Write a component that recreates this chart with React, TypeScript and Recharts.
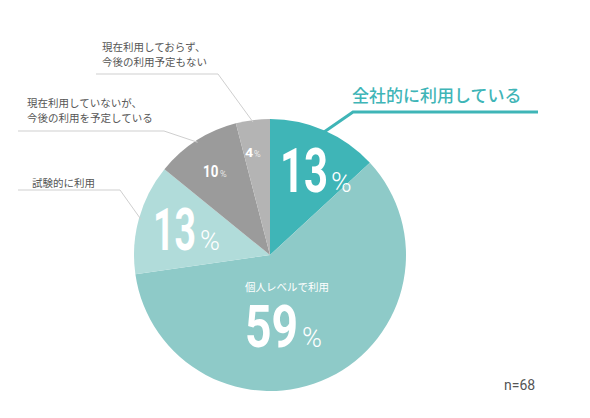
import { PieChart, Pie, Cell } from 'recharts'

// ── data ─────────────────────────────────────────────────────────────────────
const CATEGORIES = [
  '全社的に利用している',
  '個人レベルで利用',
  '試験的に利用',
  '現在利用していないが、今後の利用を予定している',
  '現在利用しておらず、今後の利用予定もない',
]
const VALUES = [13, 59, 13, 10, 4]
const SAMPLE_LABEL = 'n=68'

// label lines shown outside the pie (index → lines)
const OUTER_LINES: Record<number, string[]> = {
  0: ['全社的に利用している'],
  2: ['試験的に利用'],
  3: ['現在利用していないが、', '今後の利用を予定している'],
  4: ['現在利用しておらず、', '今後の利用予定もない'],
}

// ── style ────────────────────────────────────────────────────────────────────
const COLORS = ['#3fb5b7', '#8ecac8', '#b1dcda', '#9b9b9b', '#b4b4b4']
const TEAL = '#3fb5b7'
const TEXT = '#555'
const JP = '"Noto Sans CJK JP", "Noto Sans", sans-serif'
const NUM = 'Roboto, "DejaVu Sans", sans-serif'
const DIGIT_EM = 0.562 // Roboto bold digit advance

// inner value label placement, offsets from the pie centre
const INNER = [
  { dx: 10, dy: -63, size: 62, w: 47, pdx: 51, psize: 28 },
  { dx: -25, dy: 92, size: 59, w: 52, pdx: 57, psize: 27 },
  { dx: -117, dy: -5, size: 60, w: 42, pdx: 47, psize: 27 },
  { dx: -67, dy: -78, size: 17, w: 15, pdx: 17, psize: 9 },
  { dx: -25, dy: -98, size: 13, w: 8, pdx: 9, psize: 9 },
]

// leader line: elbow, far end of underline, text start / baselines
const OUTER: Record<number, { ex: number; ey: number; endX: number; tx: number; ty: number[] }> = {
  0: { ex: 353, ey: 112, endX: 538, tx: 352, ty: [102] },
  2: { ex: 120, ey: 190, endX: 18, tx: 32, ty: [187] },
  3: { ex: 164, ey: 131, endX: 18, tx: 27, ty: [107, 122] },
  4: { ex: 218, ey: 74, endX: 96, tx: 102, ty: [51, 66] },
}

const RAD = Math.PI / 180

function renderLabel(props: any) {
  const { cx, cy, midAngle, outerRadius, index, value } = props
  const inner = INNER[index]
  const out = OUTER[index]
  const nx = cx + inner.dx
  const ny = cy + inner.dy
  // squeeze the digits horizontally to mimic a condensed face
  const sx = inner.w / (String(value).length * DIGIT_EM * inner.size)

  let leader = null
  if (out) {
    const px = cx + (outerRadius - 2) * Math.cos(-midAngle * RAD)
    const py = cy + (outerRadius - 2) * Math.sin(-midAngle * RAD)
    const main = index === 0
    leader = (
      <g>
        <polyline
          points={`${px},${py} ${out.ex},${out.ey} ${out.endX},${out.ey}`}
          fill="none"
          stroke={main ? TEAL : '#cfcfcf'}
          strokeWidth={main ? 3 : 1}
        />
        {OUTER_LINES[index].map((line, i) => (
          <text
            key={i}
            x={out.tx}
            y={out.ty[i]}
            fontFamily={JP}
            fontSize={main ? 17 : 10.5}
            fontWeight={main ? 500 : 400}
            fill={main ? TEAL : TEXT}
          >
            {line}
          </text>
        ))}
      </g>
    )
  }

  return (
    <g>
      {leader}
      <text
        transform={`translate(${nx},${ny}) scale(${sx},1)`}
        x={0}
        y={0}
        fontFamily={NUM}
        fontWeight={700}
        fontSize={inner.size}
        fill="#fff"
      >
        {value}
      </text>
      <text x={nx + inner.pdx} y={ny} fontFamily={NUM} fontWeight={300} fontSize={inner.psize} fill="#fff">
        %
      </text>
      {index === 1 && (
        <text x={nx} y={ny - 56} fontFamily={JP} fontSize={10.5} fill="#fff">
          {CATEGORIES[1]}
        </text>
      )}
    </g>
  )
}

export default function App() {
  const data = CATEGORIES.map((name, i) => ({ name, value: VALUES[i] }))

  return (
    <div style={{ position: 'absolute', left: 0, top: 0, width: 590, height: 418, background: '#fff' }}>
      <PieChart width={590} height={418} margin={{ top: 0, right: 0, bottom: 0, left: 0 }}>
        <Pie
          data={data}
          dataKey="value"
          nameKey="name"
          cx={270}
          cy={255}
          outerRadius={136}
          startAngle={90}
          endAngle={-270}
          stroke="none"
          label={renderLabel}
          labelLine={false}
          isAnimationActive={false}
        >
          {data.map((d, i) => (
            <Cell key={d.name} fill={COLORS[i]} />
          ))}
        </Pie>
        <text x={504} y={390} fontFamily={NUM} fontSize={14} fill={TEXT}>
          {SAMPLE_LABEL}
        </text>
      </PieChart>
    </div>
  )
}
